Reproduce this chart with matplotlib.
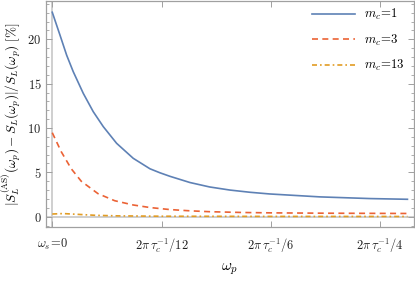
import matplotlib
matplotlib.use("Agg")
import matplotlib.pyplot as plt
from matplotlib.ticker import MultipleLocator

plt.rcParams['mathtext.fontset'] = 'cm'
plt.rcParams['font.family'] = ['DejaVu Serif']

# x in units of (2*pi/tau_c)/12
x_m1 = [0.0, 0.07, 0.132, 0.192, 0.284, 0.375, 0.467, 0.589, 0.741, 0.894, 0.985,
        1.077, 1.26, 1.44, 1.626, 1.81, 1.99, 2.45, 2.91, 3.25]
y_m1 = [23.05, 20.5, 18.2, 16.35, 13.9, 11.84, 10.15, 8.27, 6.58, 5.4, 4.95,
        4.55, 3.85, 3.35, 3.0, 2.75, 2.56, 2.23, 2.04, 1.96]

x_m3 = [0.0, 0.082, 0.174, 0.265, 0.418, 0.571, 0.74, 0.894, 1.077, 1.26, 1.44,
        1.745, 2.0, 2.5, 3.25]
y_m3 = [9.47, 7.33, 5.4, 4.0, 2.6, 1.8, 1.32, 1.03, 0.8, 0.66, 0.56,
        0.47, 0.43, 0.39, 0.36]

x_m13 = [0.0, 0.1, 0.25, 0.4, 0.6, 1.0, 2.0, 3.25]
y_m13 = [0.30, 0.35, 0.25, 0.15, 0.09, 0.05, 0.03, 0.02]

xtick_vals = [0.0, 1, 2, 3]
xtick_labels = [r'$\omega_s\!=\!0$', r'$2\pi\,\tau_c^{-1}/12$', r'$2\pi\,\tau_c^{-1}/6$',
                r'$2\pi\,\tau_c^{-1}/4$']
ytick_vals = [0, 5, 10, 15, 20]
labels = [r'$m_c\!=\!1$', r'$m_c\!=\!3$', r'$m_c\!=\!13$']

fig = plt.figure(figsize=(4.15, 2.82), dpi=100)
ax = fig.add_axes([0.110, 0.1933, 0.8876, 0.8032])

ax.axhline(0, color='#cccccc', lw=1.3, zorder=1)
ax.axvline(0, color='#cccccc', lw=1.3, zorder=1)

ax.plot(x_m1, y_m1, color='#5E81B5', lw=1.2, label=labels[0], zorder=3)
ax.plot(x_m3, y_m3, color='#EB6235', lw=1.2, dashes=(3.6, 2.6),
        label=labels[1], zorder=3)
ax.plot(x_m13, y_m13, color='#E19C24', lw=1.2, dashes=(3.0, 1.8, 1.0, 1.8),
        label=labels[2], zorder=3)

ax.set_xlim(-0.0604, 3.31)
ax.set_ylim(-1.22, 24.32)
ax.set_xticks(xtick_vals)
ax.set_xticklabels(xtick_labels)
ax.set_yticks(ytick_vals)
ax.set_yticklabels([f'${v}$' for v in ytick_vals])
ax.yaxis.set_minor_locator(MultipleLocator(1))

for s in ax.spines.values():
    s.set_color('#a0a0a0')
    s.set_linewidth(0.9)
ax.tick_params(which='both', direction='in', color='#a0a0a0', top=True, right=True,
               labelsize=9, labelcolor='#222222')
ax.tick_params(which='major', length=4, width=0.7)
ax.tick_params(which='minor', length=2.2, width=0.6)
ax.tick_params(axis='x', pad=7)
ax.tick_params(axis='y', pad=3)

ax.set_xlabel(r'$\omega_p$', fontsize=11, labelpad=4)
ax.set_ylabel(r'$|S_L^{(\mathrm{AS})}(\omega_p)-S_L(\omega_p)|/S_L(\omega_p)\ [\%]$',
              fontsize=9.5, labelpad=3)

leg = ax.legend(loc='upper left', frameon=False, fontsize=9.2, handlelength=3.4,
                labelspacing=0.8, handletextpad=0.7, borderaxespad=0.0,
                bbox_to_anchor=(0.709, 0.995))

fig.savefig('out.png', dpi=100)
